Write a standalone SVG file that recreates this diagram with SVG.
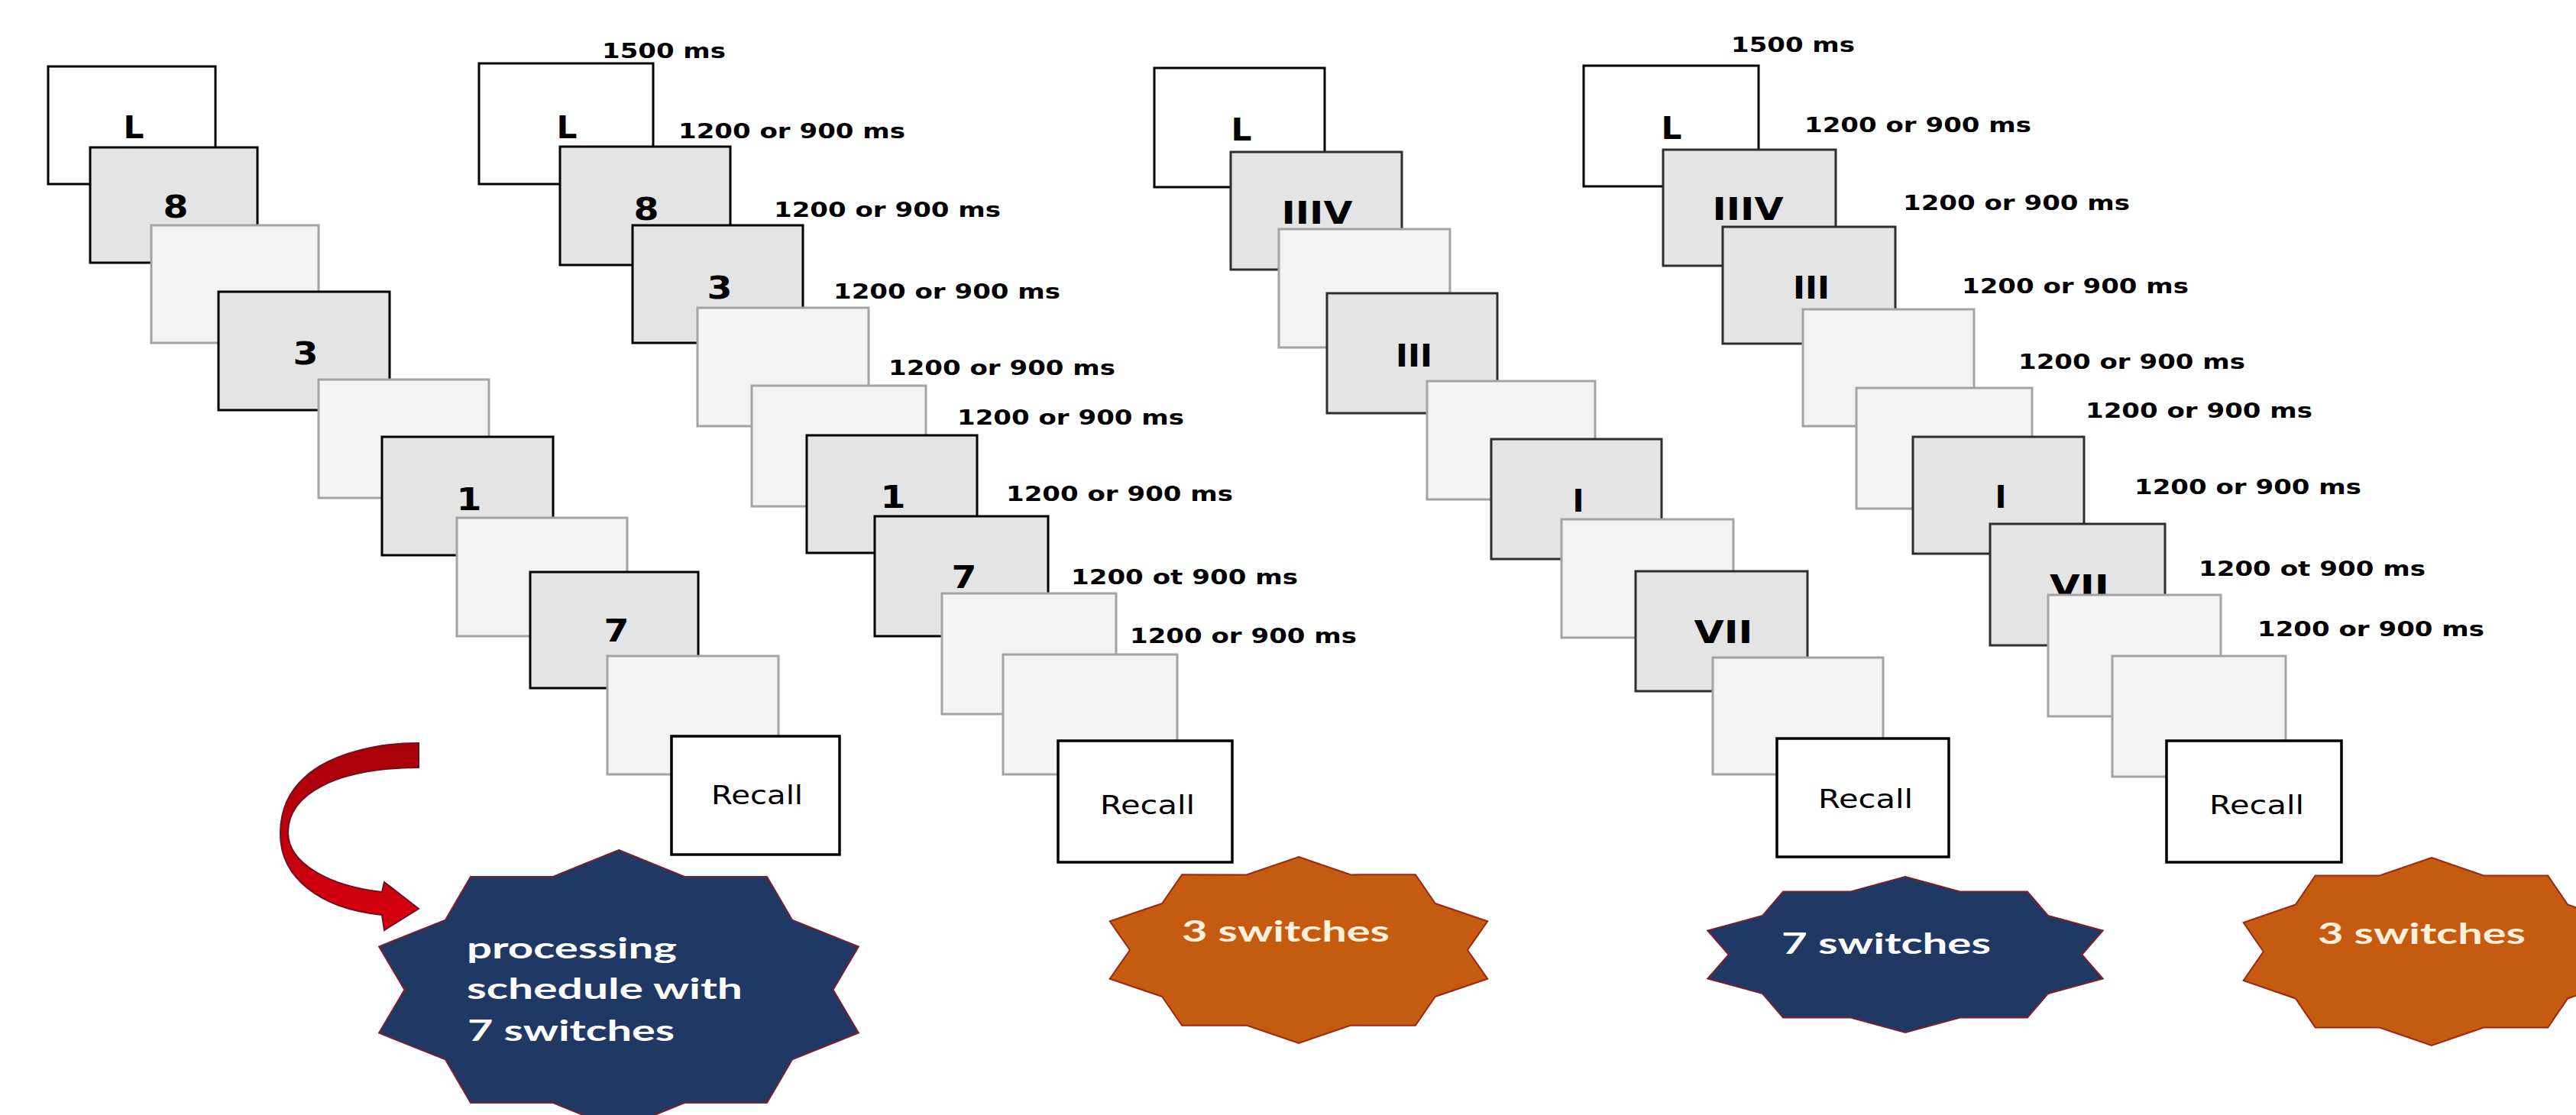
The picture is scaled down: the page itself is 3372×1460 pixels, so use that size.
<svg xmlns="http://www.w3.org/2000/svg" xmlns:xlink="http://www.w3.org/1999/xlink" width="3372" height="1460" viewBox="0 0 3372 1460">
<style>
.wbox{fill:#ffffff;stroke:#000;stroke-width:3}
.gbox{fill:#e5e4e4;stroke:#000;stroke-width:3}
.gbox2{fill:#e5e4e4;stroke:#2e2e2e;stroke-width:3}
.lbox{fill:#f3f3f3;stroke:#a3a3a3;stroke-width:3}
.rbox{fill:#ffffff;stroke:#000;stroke-width:3.5}
.big{font-family:"DejaVu Sans","Liberation Sans",sans-serif;font-weight:bold;font-size:40px;fill:#000;text-anchor:middle}
.lab{font-family:"DejaVu Sans","Liberation Sans",sans-serif;font-weight:bold;font-size:27px;fill:#000}
.rec{font-family:"DejaVu Sans","Liberation Sans",sans-serif;font-size:33px;fill:#000;text-anchor:middle}
.star-navy{fill:#203864;stroke:#7a2030;stroke-width:2}
.star-orange{fill:#c55a11;stroke:#9a2a12;stroke-width:2}
.stxt{font-family:Lato,"Open Sans",sans-serif;font-weight:bold;font-size:38px}
.stxt-w{fill:#ffffff}
.stxt-c{fill:#fff0dc}
</style>
<defs>
<polygon id="star10" vector-effect="non-scaling-stroke" points="0,-100 26.27,-80.84 58.78,-80.9 68.77,-49.96 95.11,-30.9 85,0 95.11,30.9 68.77,49.96 58.78,80.9 26.27,80.84 0,100 -26.27,80.84 -58.78,80.9 -68.77,49.96 -95.11,30.9 -85,0 -95.11,-30.9 -68.77,-49.96 -58.78,-80.9 -26.27,-80.84"/>
<linearGradient id="arrowGrad" x1="0" y1="0" x2="0" y2="1">
<stop offset="0" stop-color="#a80008"/>
<stop offset="1" stop-color="#d80010"/>
</linearGradient>
</defs>
<rect x="0" y="0" width="3372" height="1460" fill="#ffffff"/>

<!-- Panel 1 -->
<g id="panel1">
<g id="p1-L"><rect class="wbox" x="63" y="87" width="219" height="154"/><text class="big" x="175" y="181" textLength="27" lengthAdjust="spacingAndGlyphs">L</text></g>
<g id="p1-8"><rect class="gbox" x="118" y="193" width="219" height="151"/><text class="big" x="230" y="285" textLength="33" lengthAdjust="spacingAndGlyphs">8</text></g>
<g id="p1-blank1"><rect class="lbox" x="198" y="295" width="219" height="154"/></g>
<g id="p1-3"><rect class="gbox" x="286" y="382" width="224" height="155"/><text class="big" x="400" y="477" textLength="33" lengthAdjust="spacingAndGlyphs">3</text></g>
<g id="p1-blank2"><rect class="lbox" x="417" y="497" width="223" height="155"/></g>
<g id="p1-1"><rect class="gbox" x="500" y="572" width="224" height="155"/><text class="big" x="614" y="668" textLength="33" lengthAdjust="spacingAndGlyphs">1</text></g>
<g id="p1-blank3"><rect class="lbox" x="598" y="678" width="223" height="155"/></g>
<g id="p1-7"><rect class="gbox" x="694" y="749" width="220" height="152"/><text class="big" x="807" y="840" textLength="33" lengthAdjust="spacingAndGlyphs">7</text></g>
<g id="p1-blank4"><rect class="lbox" x="795" y="859" width="224" height="155"/></g>
<g id="p1-recall"><rect class="rbox" x="879" y="964" width="220" height="155"/><text class="rec" x="991" y="1053" textLength="120" lengthAdjust="spacingAndGlyphs">Recall</text></g>
</g>

<!-- Panel 2 -->
<g id="panel2">
<g id="p2-L"><rect class="wbox" x="627" y="83" width="228" height="158"/><text class="big" x="742" y="181" textLength="27" lengthAdjust="spacingAndGlyphs">L</text></g>
<g id="p2-8"><rect class="gbox" x="733" y="192" width="223" height="155"/><text class="big" x="846" y="288" textLength="33" lengthAdjust="spacingAndGlyphs">8</text></g>
<g id="p2-3"><rect class="gbox" x="828" y="295" width="223" height="154"/><text class="big" x="942" y="391" textLength="33" lengthAdjust="spacingAndGlyphs">3</text></g>
<g id="p2-blank1"><rect class="lbox" x="913" y="403" width="224" height="155"/></g>
<g id="p2-blank2"><rect class="lbox" x="984" y="505" width="228" height="158"/></g>
<g id="p2-1"><rect class="gbox" x="1056" y="570" width="223" height="154"/><text class="big" x="1169" y="665" textLength="33" lengthAdjust="spacingAndGlyphs">1</text></g>
<g id="p2-7"><rect class="gbox" x="1145" y="676" width="227" height="157"/><text class="big" x="1262" y="770" textLength="33" lengthAdjust="spacingAndGlyphs">7</text></g>
<g id="p2-blank3"><rect class="lbox" x="1233" y="777" width="228" height="158"/></g>
<g id="p2-blank4"><rect class="lbox" x="1313" y="857" width="228" height="157"/></g>
<g id="p2-recall"><rect class="rbox" x="1385" y="970" width="228" height="159"/><text class="rec" x="1502" y="1066" textLength="124" lengthAdjust="spacingAndGlyphs">Recall</text></g>
<g id="p2-times">
<text class="lab" x="788" y="76" textLength="162" lengthAdjust="spacingAndGlyphs">1500 ms</text>
<text class="lab" x="888" y="181" textLength="297" lengthAdjust="spacingAndGlyphs">1200 or 900 ms</text>
<text class="lab" x="1013" y="284" textLength="297" lengthAdjust="spacingAndGlyphs">1200 or 900 ms</text>
<text class="lab" x="1091" y="391" textLength="297" lengthAdjust="spacingAndGlyphs">1200 or 900 ms</text>
<text class="lab" x="1163" y="491" textLength="297" lengthAdjust="spacingAndGlyphs">1200 or 900 ms</text>
<text class="lab" x="1253" y="556" textLength="297" lengthAdjust="spacingAndGlyphs">1200 or 900 ms</text>
<text class="lab" x="1317" y="656" textLength="297" lengthAdjust="spacingAndGlyphs">1200 or 900 ms</text>
<text class="lab" x="1402" y="765" textLength="297" lengthAdjust="spacingAndGlyphs">1200 ot 900 ms</text>
<text class="lab" x="1479" y="842" textLength="297" lengthAdjust="spacingAndGlyphs">1200 or 900 ms</text>
</g>
</g>

<!-- Panel 3 -->
<g id="panel3">
<g id="p3-L"><rect class="wbox" x="1511" y="89" width="223" height="156"/><text class="big" x="1625" y="184" textLength="27" lengthAdjust="spacingAndGlyphs">L</text></g>
<g id="p3-IIIV"><rect class="gbox2" x="1611" y="199" width="224" height="154"/><text class="big" x="1724" y="293" textLength="93" lengthAdjust="spacingAndGlyphs">IIIV</text></g>
<g id="p3-blank1"><rect class="lbox" x="1674" y="300" width="224" height="155"/></g>
<g id="p3-III"><rect class="gbox2" x="1737" y="384" width="223" height="157"/><text class="big" x="1851" y="480" textLength="48" lengthAdjust="spacingAndGlyphs">III</text></g>
<g id="p3-blank2"><rect class="lbox" x="1868" y="499" width="220" height="155"/></g>
<g id="p3-I"><rect class="gbox2" x="1952" y="575" width="223" height="157"/><text class="big" x="2066" y="670" textLength="15" lengthAdjust="spacingAndGlyphs">I</text></g>
<g id="p3-blank3"><rect class="lbox" x="2044" y="680" width="225" height="155"/></g>
<g id="p3-VII"><rect class="gbox2" x="2141" y="748" width="225" height="157"/><text class="big" x="2256" y="842" textLength="77" lengthAdjust="spacingAndGlyphs">VII</text></g>
<g id="p3-blank4"><rect class="lbox" x="2242" y="861" width="223" height="153"/></g>
<g id="p3-recall"><rect class="rbox" x="2326" y="967" width="225" height="155"/><text class="rec" x="2442" y="1058" textLength="124" lengthAdjust="spacingAndGlyphs">Recall</text></g>
</g>

<!-- Panel 4 -->
<g id="panel4">
<g id="p4-L"><rect class="wbox" x="2073" y="86" width="229" height="158"/><text class="big" x="2188" y="182" textLength="27" lengthAdjust="spacingAndGlyphs">L</text></g>
<g id="p4-IIIV"><rect class="gbox2" x="2177" y="196" width="226" height="152"/><text class="big" x="2288" y="288" textLength="93" lengthAdjust="spacingAndGlyphs">IIIV</text></g>
<g id="p4-III"><rect class="gbox2" x="2255" y="297" width="226" height="153"/><text class="big" x="2371" y="391" textLength="48" lengthAdjust="spacingAndGlyphs">III</text></g>
<g id="p4-blank1"><rect class="lbox" x="2360" y="405" width="224" height="153"/></g>
<g id="p4-blank2"><rect class="lbox" x="2430" y="508" width="230" height="158"/></g>
<g id="p4-I"><rect class="gbox2" x="2504" y="572" width="224" height="153"/><text class="big" x="2619" y="665" textLength="15" lengthAdjust="spacingAndGlyphs">I</text></g>
<g id="p4-VII"><rect class="gbox2" x="2605" y="686" width="229" height="159"/><text class="big" x="2722" y="782" textLength="78" lengthAdjust="spacingAndGlyphs">VII</text></g>
<g id="p4-blank3"><rect class="lbox" x="2681" y="779" width="226" height="159"/></g>
<g id="p4-blank4"><rect class="lbox" x="2765" y="859" width="227" height="158"/></g>
<g id="p4-recall"><rect class="rbox" x="2836" y="970" width="229" height="159"/><text class="rec" x="2954" y="1066" textLength="124" lengthAdjust="spacingAndGlyphs">Recall</text></g>
<g id="p4-times">
<text class="lab" x="2266" y="68" textLength="162" lengthAdjust="spacingAndGlyphs">1500 ms</text>
<text class="lab" x="2362" y="173" textLength="297" lengthAdjust="spacingAndGlyphs">1200 or 900 ms</text>
<text class="lab" x="2491" y="275" textLength="297" lengthAdjust="spacingAndGlyphs">1200 or 900 ms</text>
<text class="lab" x="2568" y="384" textLength="297" lengthAdjust="spacingAndGlyphs">1200 or 900 ms</text>
<text class="lab" x="2642" y="483" textLength="297" lengthAdjust="spacingAndGlyphs">1200 or 900 ms</text>
<text class="lab" x="2730" y="547" textLength="297" lengthAdjust="spacingAndGlyphs">1200 or 900 ms</text>
<text class="lab" x="2794" y="647" textLength="297" lengthAdjust="spacingAndGlyphs">1200 or 900 ms</text>
<text class="lab" x="2878" y="754" textLength="297" lengthAdjust="spacingAndGlyphs">1200 ot 900 ms</text>
<text class="lab" x="2955" y="833" textLength="297" lengthAdjust="spacingAndGlyphs">1200 or 900 ms</text>
</g>
</g>

<!-- Stars -->
<g id="star1">
<use xlink:href="#star10" href="#star10" class="star-navy" transform="translate(810,1296) scale(3.30,1.83)"/>
<text class="stxt stxt-w" x="611" y="1255" textLength="275" lengthAdjust="spacingAndGlyphs">processing</text>
<text class="stxt stxt-w" x="611" y="1308" textLength="361" lengthAdjust="spacingAndGlyphs">schedule with</text>
<text class="stxt stxt-w" x="612" y="1363" textLength="271" lengthAdjust="spacingAndGlyphs">7 switches</text>
</g>
<g id="star2">
<use xlink:href="#star10" href="#star10" class="star-orange" transform="translate(1700,1244) scale(2.60,1.22)"/>
<text class="stxt stxt-c" x="1547" y="1233" textLength="272" lengthAdjust="spacingAndGlyphs">3 switches</text>
</g>
<g id="star3">
<use xlink:href="#star10" href="#star10" class="star-navy" transform="translate(2494,1250) scale(2.72,1.02)"/>
<text class="stxt stxt-w" x="2332" y="1249" textLength="274" lengthAdjust="spacingAndGlyphs">7 switches</text>
</g>
<g id="star4">
<use xlink:href="#star10" href="#star10" class="star-orange" transform="translate(3183,1246) scale(2.59,1.23)"/>
<text class="stxt stxt-c" x="3034" y="1236" textLength="272" lengthAdjust="spacingAndGlyphs">3 switches</text>
</g>

<!-- Connectors -->
<g id="connectors">
<path d="M 548 973 C 470 973 368 1000 367 1090 C 366 1150 420 1190 500 1198 L 503 1218 L 548 1190 L 503 1155 L 500 1168 C 430 1160 377 1130 377 1090 C 377 1040 440 1005 548 1005 Z" fill="url(#arrowGrad)" stroke="#6e1020" stroke-width="2" stroke-linejoin="miter"/>
</g>
</svg>
